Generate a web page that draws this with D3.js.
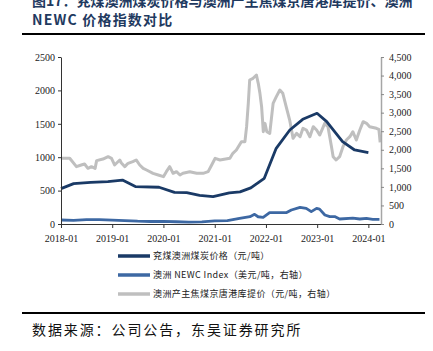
<!DOCTYPE html>
<html>
<head>
<meta charset="utf-8">
<script src="https://cdn.jsdelivr.net/npm/d3@7"></script>
<style>
  body { margin: 0; background: #fff; }
  svg { display: block; }
</style>
</head>
<body>
<div id="chart"></div>
<script>
// Yancoal AU price vs Jingtang port coking coal vs NEWC

// 兖煤澳洲煤炭价格 (元/吨, left axis)
const yancoalPrice = [
  ["2018-01-01", 530], ["2018-04-01", 605], ["2018-08-01", 622], ["2018-12-01", 635],
  ["2019-03-15", 658], ["2019-06-15", 560], ["2019-12-01", 550], ["2020-03-20", 474],
  ["2020-06-15", 469], ["2020-09-15", 428], ["2020-12-20", 410], ["2021-04-15", 465],
  ["2021-06-30", 480], ["2021-09-15", 540], ["2021-12-20", 684], ["2022-03-15", 1133],
  ["2022-06-20", 1407], ["2022-09-20", 1567], ["2022-12-31", 1657], ["2023-03-10", 1532],
  ["2023-07-01", 1232], ["2023-09-25", 1108], ["2024-01-01", 1067]
];

// 澳洲 NEWC Index (美元/吨, right axis)
const newcIndex = [
  ["2018-01-01", 108], ["2018-04-01", 100], ["2018-07-01", 118], ["2018-10-01", 120],
  ["2019-01-01", 105], ["2019-04-01", 90], ["2019-07-01", 75], ["2019-10-01", 68],
  ["2020-01-01", 70], ["2020-04-01", 60], ["2020-07-01", 52], ["2020-10-01", 58],
  ["2021-01-01", 85], ["2021-04-01", 90], ["2021-06-27", 150], ["2021-09-09", 198],
  ["2021-10-12", 260], ["2021-11-06", 195], ["2021-12-12", 180], ["2022-01-27", 305],
  ["2022-05-25", 305], ["2022-07-01", 377], ["2022-09-01", 450], ["2022-10-15", 420],
  ["2022-11-20", 332], ["2022-12-28", 420], ["2023-01-18", 400], ["2023-02-25", 243],
  ["2023-04-01", 198], ["2023-05-06", 200], ["2023-06-10", 135], ["2023-09-12", 160],
  ["2023-11-01", 135], ["2023-12-18", 150], ["2024-02-01", 126], ["2024-03-20", 126]
];

// 澳洲产主焦煤京唐港库提价 (元/吨, right axis)
const jingtangPrice = [
  ["2018-01-01", 1770], ["2018-03-04", 1770], ["2018-04-21", 1545], ["2018-05-25", 1590],
  ["2018-06-18", 1617], ["2018-07-12", 1500], ["2018-08-06", 1545], ["2018-09-01", 1500],
  ["2018-09-12", 1707], ["2018-10-27", 1750], ["2018-12-03", 1815], ["2018-12-27", 1770],
  ["2019-01-18", 1590], ["2019-02-24", 1725], ["2019-03-06", 1650], ["2019-04-01", 1545],
  ["2019-04-24", 1635], ["2019-05-28", 1680], ["2019-06-21", 1725], ["2019-07-16", 1590],
  ["2019-08-10", 1500], ["2019-09-03", 1455], ["2019-10-19", 1366], ["2019-11-25", 1320],
  ["2020-01-01", 1275], ["2020-01-22", 1410], ["2020-02-15", 1545], ["2020-03-10", 1366],
  ["2020-04-03", 1410], ["2020-04-28", 1320], ["2020-05-19", 1366], ["2020-07-07", 1410],
  ["2020-08-25", 1366], ["2020-10-10", 1366], ["2020-11-15", 1410], ["2020-12-10", 1590],
  ["2021-01-04", 1770], ["2021-02-07", 1725], ["2021-04-19", 1770], ["2021-05-10", 1905],
  ["2021-06-04", 1994], ["2021-07-10", 2218], ["2021-08-04", 2218], ["2021-08-16", 2622],
  ["2021-08-28", 3252], ["2021-09-07", 3880], ["2021-10-01", 3926], ["2021-10-25", 4015],
  ["2021-11-07", 3791], ["2021-11-19", 3520], ["2021-12-01", 3161], ["2021-12-13", 2487],
  ["2021-12-25", 2712], ["2022-01-07", 2487], ["2022-01-28", 2443], ["2022-02-21", 3252],
  ["2022-03-16", 3431], ["2022-04-10", 3611], ["2022-05-01", 3521], ["2022-05-25", 3161],
  ["2022-06-19", 2802], ["2022-07-13", 2309], ["2022-08-07", 2443], ["2022-09-01", 2353],
  ["2022-09-22", 2578], ["2022-10-16", 2533], ["2022-11-10", 2353], ["2022-12-04", 2622],
  ["2022-12-28", 2533], ["2023-01-19", 2397], ["2023-02-24", 2712], ["2023-03-19", 2622],
  ["2023-04-13", 2083], ["2023-04-25", 1813], ["2023-05-16", 1725], ["2023-06-10", 1813],
  ["2023-07-04", 2083], ["2023-07-28", 2263], ["2023-08-22", 2353], ["2023-09-12", 2487],
  ["2023-10-07", 2263], ["2023-11-01", 2533], ["2023-11-25", 2757], ["2023-12-19", 2712],
  ["2024-01-10", 2622], ["2024-02-27", 2578], ["2024-03-16", 2550], ["2024-03-25", 2200]
];

const xTickLabels = ["2018-01", "2019-01", "2020-01", "2021-01", "2022-01", "2023-01", "2024-01"];
const leftTicks = [0, 500, 1000, 1500, 2000, 2500];
const rightTicks = [0, 500, 1000, 1500, 2000, 2500, 3000, 3500, 4000, 4500];
const legendNames = [
  "兖煤澳洲煤炭价格（元/吨）",
  "澳洲 NEWC Index（美元/吨，右轴）",
  "澳洲产主焦煤京唐港库提价（元/吨，右轴）"
];
const titleLines = [
  "图17：兖煤澳洲煤炭价格与澳洲产主焦煤京唐港库提价、澳洲",
  "NEWC 价格指数对比"
];
const sourceText = "数据来源：公司公告，东吴证券研究所";

const colors = ["#1a3a66", "#3d68a3", "#bfbfbf"];
const serif = "'Liberation Serif', 'Times New Roman', serif";
const cjk = "'Noto Sans CJK SC', sans-serif";

const svg = d3.select("#chart").
append("svg").
attr("width", 433).
attr("height", 351);

const parse = d3.timeParse("%Y-%m-%d");
const pL = 61, pR = 381, pT = 57, pB = 224;

// Scales
const xScale = d3.scaleTime().
domain([parse("2018-01-01"), parse("2024-03-31")]).
range([pL, pR]);

const yLeft = d3.scaleLinear().
domain([0, 2500]).
range([pB, pT]);

const yRight = d3.scaleLinear().
domain([0, 4500]).
range([pB, pT]);

// Title (first line is cropped by the top edge, as in the source image) and rules
svg.selectAll(".title").
data(titleLines).
join("text").
attr("class", "title").
attr("x", 32).
attr("y", (d, i) => 6 + i * 19).
attr("font-family", cjk).
attr("font-weight", "bold").
attr("font-size", 14).
attr("letter-spacing", (d, i) => i === 0 ? 0 : 1.2).
attr("fill", "#1f3a60").
text(d => d);

svg.append("line").
attr("x1", 22).attr("x2", 425).
attr("y1", 34).attr("y2", 34).
attr("stroke", "#000").
attr("stroke-width", 1.8);

svg.append("line").
attr("x1", 22).attr("x2", 425).
attr("y1", 313).attr("y2", 313).
attr("stroke", "#000").
attr("stroke-width", 1.8);

svg.append("text").
attr("x", 32).
attr("y", 335).
attr("font-family", cjk).
attr("font-size", 14).
attr("letter-spacing", 1.9).
attr("fill", "#111").
text(sourceText);

// Lines
const lineLeft = d3.line().
x(d => xScale(parse(d[0]))).
y(d => yLeft(d[1]));

const lineRight = d3.line().
x(d => xScale(parse(d[0]))).
y(d => yRight(d[1]));

svg.append("path").
datum(jingtangPrice).
attr("d", lineRight).
attr("fill", "none").
attr("stroke", colors[2]).
attr("stroke-width", 3).
attr("stroke-linejoin", "round");

svg.append("path").
datum(newcIndex).
attr("d", lineRight).
attr("fill", "none").
attr("stroke", colors[1]).
attr("stroke-width", 2.8).
attr("stroke-linejoin", "round");

svg.append("path").
datum(yancoalPrice).
attr("d", lineLeft).
attr("fill", "none").
attr("stroke", colors[0]).
attr("stroke-width", 2.8).
attr("stroke-linejoin", "round");

// Axes
const xAxis = d3.axisBottom(xScale).
tickValues(xTickLabels.map(t => parse(t + "-01"))).
tickFormat(d3.timeFormat("%Y-%m")).
tickSize(4).
tickSizeOuter(0);

const gx = svg.append("g").
attr("transform", `translate(0 ${pB})`).
call(xAxis);

const gl = svg.append("g").
attr("transform", `translate(${pL} 0)`).
call(d3.axisLeft(yLeft).tickValues(leftTicks).tickFormat(d3.format("d")).tickSize(3).tickSizeOuter(0));

const gr = svg.append("g").
attr("transform", `translate(${pR} 0)`).
call(d3.axisRight(yRight).tickValues(rightTicks).tickFormat(d3.format(",")).tickSize(3).tickSizeOuter(0));

[gx, gl, gr].forEach(g => {
  g.selectAll("text").
  attr("font-family", serif).
  attr("font-size", 10).
  attr("fill", "#222");
  g.select(".domain").attr("stroke", "#333");
  g.selectAll(".tick line").attr("stroke", "#333");
});

gx.selectAll("text").attr("dy", "1.05em");
gl.selectAll("text").attr("x", -6);
gr.selectAll("text").attr("x", 8);
gr.select(".domain").attr("stroke", "#a6a6a6").attr("stroke-width", 1.5);
gr.selectAll(".tick line").attr("stroke", "#888");

// Legend
const legend = svg.append("g").
selectAll("g").
data(legendNames).
join("g").
attr("transform", (d, i) => `translate(118 ${256 + i * 19})`);

legend.append("line").
attr("x1", 0).attr("x2", 32).
attr("stroke", (d, i) => colors[i]).
attr("stroke-width", 3.5);

legend.append("text").
attr("x", 35).
attr("dy", "0.35em").
attr("font-family", cjk).
attr("font-size", 9).
attr("letter-spacing", 0.4).
attr("fill", "#222").
text(d => d);
</script>
</body>
</html>
